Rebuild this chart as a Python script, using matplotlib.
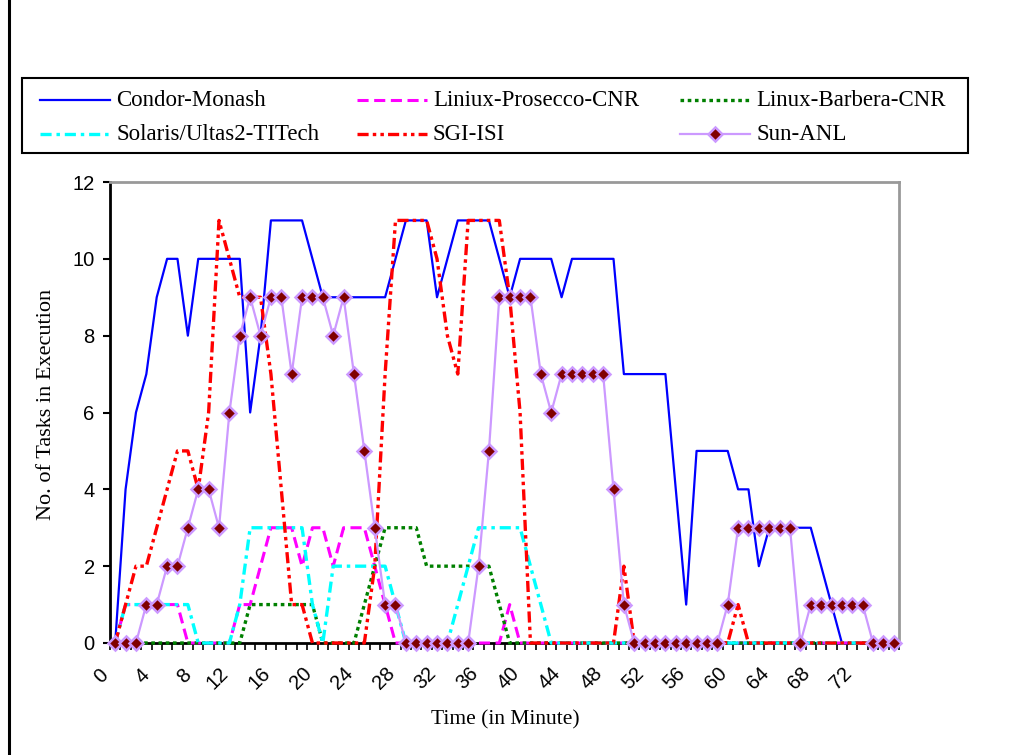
import matplotlib
matplotlib.use("Agg")
import matplotlib.pyplot as plt
from matplotlib.lines import Line2D
from matplotlib.patches import Rectangle
import matplotlib.transforms as mtransforms

plt.rcParams['lines.scale_dashes'] = False

# ---------------- data ----------------
minutes = list(range(76))
tick_labels = [str(v) for v in range(0, 73, 4)]

condor_monash = [0, 4, 6, 7, 9, 10, 10, 8, 10, 10, 10, 10, 10, 6, 8, 11, 11, 11, 11, 10,
                 9, 9, 9, 9, 9, 9, 9, 10, 11, 11, 11, 9, 10, 11, 11, 11, 11, 10, 9, 10,
                 10, 10, 10, 9, 10, 10, 10, 10, 10, 7, 7, 7, 7, 7, 4, 1, 5, 5, 5, 5,
                 4, 4, 2, 3, 3, 3, 3, 3, 2, 1, 0, 0, 0, 0, 0, 0]
liniux_prosecco = [0, 1, 1, 1, 1, 1, 1, 0, 0, 0, 0, 0, 1, 1, 2, 3, 3, 3, 2, 3,
                   3, 2, 3, 3, 3, 2, 1, 0, 0, 0, 0, 0, 0, 0, 0, 0, 0, 0, 1, 0,
                   0, 0, 0, 0, 0, 0, 0, 0, 0, 0, 0, 0, 0, 0, 0, 0, 0, 0, 0, 0,
                   0, 0, 0, 0, 0, 0, 0, 0, 0, 0, 0, 0, 0, 0, 0, 0]
linux_barbera = [0, 0, 0, 0, 0, 0, 0, 0, 0, 0, 0, 0, 0, 1, 1, 1, 1, 1, 1, 1,
                 0, 0, 0, 0, 1, 2, 3, 3, 3, 3, 2, 2, 2, 2, 2, 2, 2, 1, 0, 0,
                 0, 0, 0, 0, 0, 0, 0, 0, 0, 0, 0, 0, 0, 0, 0, 0, 0, 0, 0, 0,
                 0, 0, 0, 0, 0, 0, 0, 0, 0, 0, 0, 0, 0, 0, 0, 0]
solaris_titech = [0, 1, 1, 1, 1, 1, 1, 1, 0, 0, 0, 0, 1, 3, 3, 3, 3, 3, 3, 1,
                  0, 2, 2, 2, 2, 2, 2, 1, 0, 0, 0, 0, 0, 1, 2, 3, 3, 3, 3, 3,
                  2, 1, 0, 0, 0, 0, 0, 0, 0, 0, 0, 0, 0, 0, 0, 0, 0, 0, 0, 0,
                  0, 0, 0, 0, 0, 0, 0, 0, 0, 0, 0, 0, 0, 0, 0, 0]
sgi_isi = [0, 1, 2, 2, 3, 4, 5, 5, 4, 6, 11, 10, 9, 9, 9, 7, 4, 1, 1, 0,
           0, 0, 0, 0, 0, 2, 7, 11, 11, 11, 11, 10, 8, 7, 11, 11, 11, 11, 9, 6,
           0, 0, 0, 0, 0, 0, 0, 0, 0, 2, 0, 0, 0, 0, 0, 0, 0, 0, 0, 0,
           1, 0, 0, 0, 0, 0, 0, 0, 0, 0, 0, 0, 0, 0, 0, 0]
sun_anl = [0, 0, 0, 1, 1, 2, 2, 3, 4, 4, 3, 6, 8, 9, 8, 9, 9, 7, 9, 9,
           9, 8, 9, 7, 5, 3, 1, 1, 0, 0, 0, 0, 0, 0, 0, 2, 5, 9, 9, 9,
           9, 7, 6, 7, 7, 7, 7, 7, 4, 1, 0, 0, 0, 0, 0, 0, 0, 0, 0, 1,
           3, 3, 3, 3, 3, 3, 0, 1, 1, 1, 1, 1, 1, 0, 0, 0]

series_names = ["Condor-Monash", "Liniux-Prosecco-CNR", "Linux-Barbera-CNR",
                "Solaris/Ultas2-TITech", "SGI-ISI", "Sun-ANL"]

# ---------------- styles ----------------
W, H = 1027, 755
fig = plt.figure(figsize=(W / 100, H / 100), dpi=100)

def fx(px):
    return px / W

def fy(py):
    return 1 - py / H

left, right, top, bottom = 110, 899, 182, 643
ax = fig.add_axes([fx(left), fy(bottom), fx(right) - fx(left), fy(top) - fy(bottom)])

lav = '#CC99FF'
styles = [
    dict(color='#0000FF', lw=1.6, ls='-'),
    dict(color='#FF00FF', lw=2.2, ls=(0, (8, 4))),
    dict(color='#008000', lw=2.4, ls=(0, (2.6, 2.6))),
    dict(color='#00FFFF', lw=2.4, ls=(0, (8, 3.5, 2.5, 3.5))),
    dict(color='#FF0000', lw=2.4, ls=(0, (8, 3, 2.5, 3, 2.5, 3))),
    dict(color=lav, lw=1.6, ls='-', marker='D', markersize=7.2,
         markerfacecolor='#800000', markeredgecolor=lav, markeredgewidth=1.8),
]
all_series = [condor_monash, liniux_prosecco, linux_barbera, solaris_titech, sgi_isi, sun_anl]

for i, (vals, st) in enumerate(zip(all_series, styles)):
    ax.plot(minutes, vals, clip_on=False, zorder=2 + i, **st)

ax.set_xlim(-0.5, 75.5)
ax.set_ylim(0, 12)
ax.set_yticks(range(0, 13, 2))
ax.set_yticklabels([str(v) for v in range(0, 13, 2)], family='Liberation Sans', fontsize=14.5)
ax.tick_params(axis='y', direction='out', length=5, width=1.5, pad=6)

ax.set_xticks([m - 0.5 for m in minutes] + [75.5])
ax.set_xticklabels([])
ax.tick_params(axis='x', direction='out', length=5, width=1.2)

for s in ['top', 'right']:
    ax.spines[s].set_color('#999999')
    ax.spines[s].set_linewidth(2)
ax.spines['left'].set_linewidth(2)
ax.spines['bottom'].set_linewidth(2)

# rotated category labels
base_tr = mtransforms.blended_transform_factory(ax.transData, fig.transFigure)
for lab in tick_labels:
    v = int(lab)
    off = -6 - 8 * len(lab)
    tr = mtransforms.offset_copy(base_tr, fig=fig, x=off * 0.72, y=0, units='points')
    ax.text(v, fy(674 + 2 * len(lab)), lab, transform=tr,
            rotation=45, ha='center', va='center', family='Liberation Sans', fontsize=14.5,
            clip_on=False)

fig.text(fx(505), fy(720), "Time (in Minute)", family='Liberation Serif', fontsize=15.5,
         ha='center', va='center')
fig.text(fx(47), fy(404), "No. of Tasks in Execution", family='Liberation Serif', fontsize=16,
         ha='center', va='center', rotation=90)

# left border line of chart area
fig.add_artist(Line2D([fx(9), fx(9)], [0, 1], color='black', lw=2.2))

# legend box (manual)
fig.add_artist(Rectangle((fx(22), fy(153)), fx(968) - fx(22), fy(78) - fy(153),
                         transform=fig.transFigure, fill=False, edgecolor='black', lw=1.5))
leg_pos = [(40, 100), (357, 100), (680, 100), (40, 134), (357, 134), (680, 134)]
for name, st, (x0, yy) in zip(series_names, styles, leg_pos):
    st2 = dict(st)
    marker = st2.pop('marker', None)
    ms = st2.pop('markersize', None)
    mfc = st2.pop('markerfacecolor', None)
    mec = st2.pop('markeredgecolor', None)
    mew = st2.pop('markeredgewidth', None)
    fig.add_artist(Line2D([fx(x0), fx(x0 + 70)], [fy(yy), fy(yy)], transform=fig.transFigure,
                          color=st2['color'], lw=st2['lw'], ls=st2['ls']))
    if marker:
        fig.add_artist(Line2D([fx(x0 + 35)], [fy(yy)], transform=fig.transFigure,
                              marker=marker, markersize=ms, markerfacecolor=mfc,
                              markeredgecolor=mec, markeredgewidth=mew, ls='none'))
    fig.text(fx(x0 + 76), fy(yy + 1), name, family='Liberation Serif', fontsize=16.5,
             ha='left', va='center')

fig.savefig("out.png", dpi=100)
